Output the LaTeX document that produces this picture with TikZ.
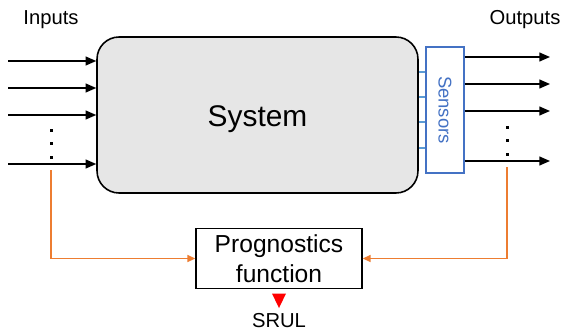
\documentclass[tikz,border=0pt]{standalone}
\usepackage{fontspec}
\setmainfont{Liberation Sans}
\usetikzlibrary{positioning}
\usetikzlibrary{arrows.meta}
\definecolor{sysgray}{HTML}{E6E6E6}
\definecolor{fborange}{HTML}{ED7D31}
\definecolor{sensblue}{HTML}{4472C4}
\definecolor{tickblue}{HTML}{5B9BD5}

\begin{document}
\begin{tikzpicture}[x=0.02cm,y=-0.02cm,
    sysbox/.style={draw,line width=0.9pt,fill=sysgray,rounded corners=0.44cm,
      minimum width=6.42cm,minimum height=3.12cm},
    sensbox/.style={draw=sensblue,line width=0.7pt,fill=white,
      minimum width=0.76cm,minimum height=2.52cm},
    progbox/.style={draw,line width=0.8pt,minimum width=3.32cm,minimum height=1.18cm,
      align=center,font=\fontsize{14}{17}\selectfont},
    sig/.style={line width=0.85pt,-{Triangle[length=6pt,width=5pt]}},
    fb/.style={fborange,line width=0.7pt,-{Triangle[length=4.5pt,width=4pt]}},
    lbl/.style={font=\fontsize{11.5}{14}\selectfont}]
   \useasboundingbox (0,0) rectangle (571,331);
   %
   \node[sysbox] (sys) at (257.5,115) {};
   \node[font=\fontsize{17}{20}\selectfont] (systext) at (257.5,119) {System};
   \node[sensbox] (sens) at (445,110) {};
   \node[rotate=-90,text=sensblue,font=\fontsize{10.5}{12}\selectfont] (senstext) at (sens.center) {Sensors};
   \node[progbox] (prog) at (279,258.5) {Prognostics\\function};
   %
   \node[lbl] (inlbl) at (51,20) {Inputs};
   \node[lbl] (outlbl) at (525,20) {Outputs};
   %
   % inputs
   \foreach \y [count=\i] in {61,88,115,164} {
     \coordinate (in\i) at (8,\y);
     \draw[sig] (in\i) -- (in\i -| sys.west);
   }
   \foreach \y in {130,143.5,157}
     \fill (49.5,\y-1.5) rectangle ++(3,3);
   %
   % sensor ticks
   \foreach \y in {72,97,122,148}
     \draw[tickblue,line width=0.6pt] (sys.east |- 0,\y) -- (sens.west |- 0,\y);
   %
   % outputs
   \foreach \y [count=\i] in {57,84,111,161} {
     \coordinate (out\i) at (550,\y);
     \draw[sig] (sens.east |- out\i) -- (out\i);
   }
   \foreach \y in {127,140.5,154}
     \fill (505.5,\y-1.5) rectangle ++(3,3);
   %
   % feedback to prognostics
   \coordinate (tapin) at (51,170);
   \coordinate (tapout) at (507,167);
   \draw[fb] (tapin) |- (prog.west);
   \draw[fb] (tapout) |- (prog.east);
   %
   \fill[red] (prog.south) ++(-7,4.5) -- ++(14,0) -- ++(-7,14.5) -- cycle;
   \node[lbl] (srul) at (279,321) {SRUL};
   %
  \end{tikzpicture}
\end{document}
